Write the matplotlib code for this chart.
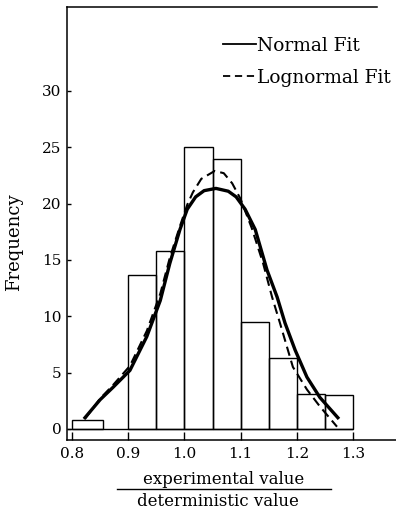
import matplotlib
matplotlib.use("Agg")
import matplotlib.pyplot as plt
from matplotlib.lines import Line2D

# ---- data ----
bin_left = [0.80, 0.90, 0.95, 1.00, 1.05, 1.10, 1.15, 1.20, 1.25]
bin_width = [0.055, 0.05, 0.05, 0.05, 0.05, 0.05, 0.05, 0.05, 0.05]
freq = [0.8, 13.7, 15.8, 25.0, 24.0, 9.5, 6.3, 3.1, 3.0]

normal_x = [0.823, 0.850, 0.873, 0.903, 0.933, 0.957, 0.974, 0.992, 1.005,
            1.020, 1.035, 1.056, 1.078, 1.092, 1.108, 1.126, 1.147, 1.165,
            1.179, 1.197, 1.218, 1.241, 1.273]
normal_y = [1.0, 2.6, 3.7, 5.2, 8.2, 11.4, 14.7, 17.7, 19.5,
            20.6, 21.15, 21.35, 21.1, 20.6, 19.5, 17.7, 14.1, 11.7,
            9.4, 7.0, 4.6, 2.8, 1.0]

logn_x = [0.823, 0.850, 0.873, 0.903, 0.933, 0.957, 0.974, 0.992, 1.005,
          1.015, 1.030, 1.054, 1.070, 1.085, 1.100, 1.120, 1.140, 1.156,
          1.170, 1.193, 1.218, 1.241, 1.2715]
logn_y = [0.9, 2.7, 3.9, 5.6, 8.7, 12.0, 15.2, 18.0, 19.9,
          21.0, 22.2, 22.9, 22.7, 21.8, 20.4, 17.8, 14.7, 11.7,
          9.4, 5.5, 3.5, 2.0, 0.2]

series_labels = ["Normal Fit", "Lognormal Fit"]
xticks = [0.8, 0.9, 1.0, 1.1, 1.2, 1.3]
yticks = [0, 5, 10, 15, 20, 25, 30]

W, H = 396, 511
fig = plt.figure(figsize=(W / 100, H / 100), dpi=100)
fam = "DejaVu Serif"

ax = fig.add_axes([67 / W, (H - 440) / H, (W - 67) / W, 433 / H])
ax.set_xlim(0.791, 1.3765)
ax.set_ylim(-0.98, 37.45)

ax.bar(bin_left, freq, width=bin_width, align="edge", fill=False,
       edgecolor="black", linewidth=1.0)
ax.hlines(0, 0.791, bin_left[-1] + bin_width[-1], color="black", linewidth=1.0)

ax.plot(normal_x, normal_y, color="black", linewidth=2.4,
        solid_joinstyle="round")
ax.plot(logn_x, logn_y, color="black", linewidth=1.5, dashes=(4.5, 2.5))

ax.spines["right"].set_visible(False)
ax.spines["top"].set_bounds(0.791, 1.3427)
for s in ["left", "top", "bottom"]:
    ax.spines[s].set_linewidth(1.1)

ax.set_xticks(xticks)
ax.set_xticklabels([f"{v:.1f}" for v in xticks], family=fam, fontsize=11)
ax.set_yticks(yticks)
ax.set_yticklabels([str(v) for v in yticks], family=fam, fontsize=11)
ax.tick_params(axis="x", direction="in", length=6, width=1.0, pad=5)
ax.tick_params(axis="y", direction="in", length=3, width=1.0, pad=4)

fig.text(14 / W, 1 - 242 / H, "Frequency", family=fam, fontsize=13,
         rotation=90, ha="center", va="center")

# fraction-style x label
fig.text(224 / W, 1 - 480 / H, "experimental value", family=fam, fontsize=12,
         ha="center", va="center")
fig.text(218 / W, 1 - 501 / H, "deterministic value", family=fam, fontsize=12,
         ha="center", va="center")
fig.add_artist(Line2D([117 / W, 331 / W], [1 - 489 / H, 1 - 489 / H],
                      transform=fig.transFigure, color="black", linewidth=1.0))

handles = [Line2D([], [], color="black", linewidth=1.3),
           Line2D([], [], color="black", linewidth=1.3, dashes=(4.0, 2.6))]
leg = ax.legend(handles, series_labels, loc="upper left",
                bbox_to_anchor=(223 / W, 1 - 37 / H),
                bbox_transform=fig.transFigure, frameon=False,
                prop={"family": fam, "size": 13.4}, handlelength=1.75,
                handletextpad=0.1, labelspacing=0.75, borderpad=0,
                borderaxespad=0)

fig.savefig("out.png", dpi=100)
